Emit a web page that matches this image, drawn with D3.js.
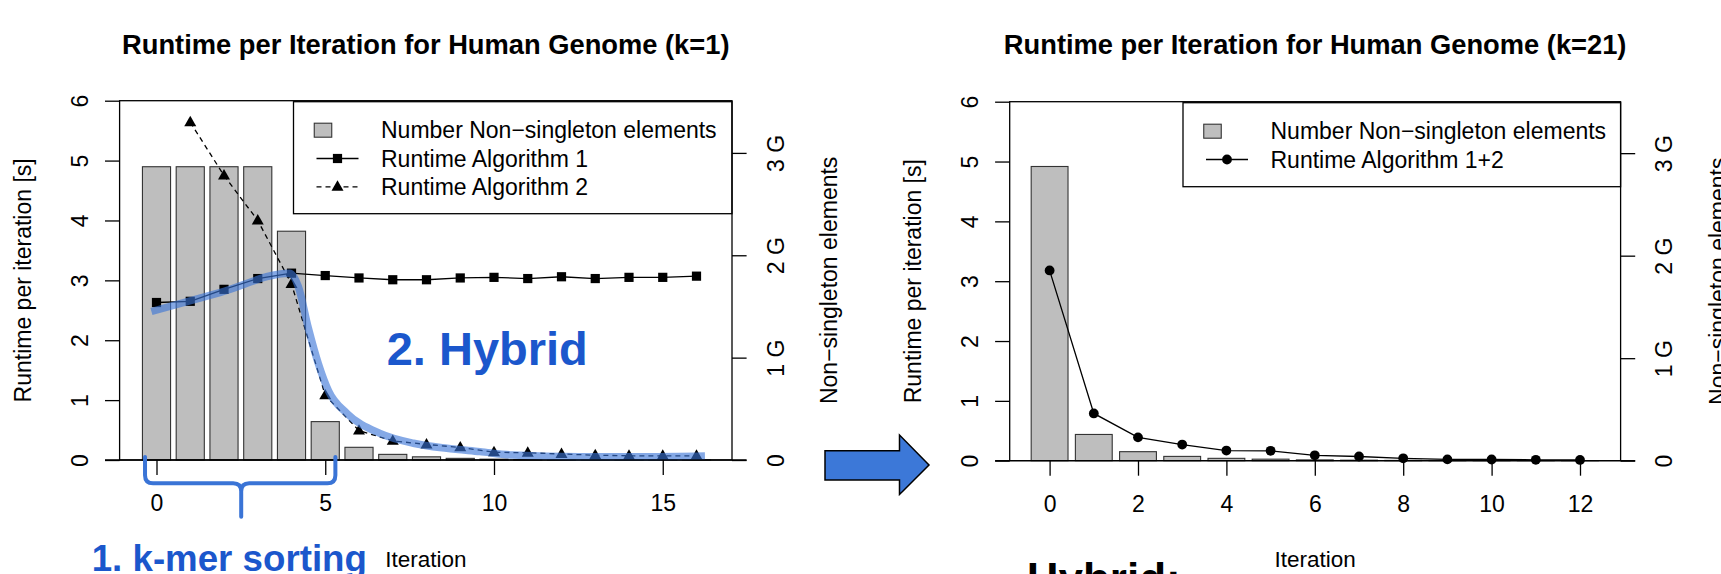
<!DOCTYPE html>
<html>
<head>
<meta charset="utf-8">
<script src="https://cdn.jsdelivr.net/npm/d3@7"></script>
<style>
  html, body { margin: 0; padding: 0; background: #fff; }
  svg { display: block; }
  text { font-family: "Liberation Sans", Arial, Helvetica, sans-serif; fill: #000; }
</style>
</head>
<body>
<svg id="chart" width="1721" height="574"></svg>
<script>
// ---------------- DATA ----------------
// Left panel (k=1)
const iterationsK1 = [0, 1, 2, 3, 4, 5, 6, 7, 8, 9, 10, 11, 12, 13, 14, 15, 16];
const nonSingletonK1 = [2.865, 2.865, 2.865, 2.865, 2.235, 0.375, 0.124, 0.055, 0.031, 0.016, 0.008, 0.004, 0.002, 0.001, 0.001, 0.0005, 0.0005]; // in G
const runtimeAlg1 = [2.63, 2.65, 2.85, 3.03, 3.12, 3.08, 3.04, 3.01, 3.01, 3.04, 3.05, 3.03, 3.06, 3.03, 3.05, 3.05, 3.07];
const runtimeAlg2 = [null, 5.64, 4.75, 4.0, 2.94, 1.08, 0.49, 0.32, 0.26, 0.21, 0.13, 0.12, 0.10, 0.08, 0.07, 0.07, 0.07];
// hand-drawn "hybrid" highlight curve (iteration, runtime)
const hybridIter    = [-0.15, 1.9, 3.95, 4.2, 4.5, 4.8, 5.1, 5.64, 6.62, 7.61, 8.6, 9.58, 10.56, 12.5, 14.5, 16.25];
const hybridRuntime = [2.48, 2.8, 3.12, 2.9, 2.2, 1.6, 1.15, 0.78, 0.445, 0.28, 0.195, 0.14, 0.083, 0.055, 0.055, 0.067];
// brace spanning the k-mer sorting iterations
const braceIter = [-0.34, 5.3];

// Right panel (k=21)
const iterationsK21 = [0, 1, 2, 3, 4, 5, 6, 7, 8, 9, 10, 11, 12];
const nonSingletonK21 = [2.87, 0.256, 0.088, 0.042, 0.023, 0.015, 0.008, 0.005, 0.003, 0.002, 0.001, 0.001, 0.001]; // in G
const runtimeAlg12 = [3.18, 0.79, 0.39, 0.27, 0.17, 0.165, 0.09, 0.07, 0.04, 0.022, 0.02, 0.015, 0.013];

// Ticks
const runtimeTicks = [0, 1, 2, 3, 4, 5, 6];
const gTicks = [0, 1, 2, 3];
const gTickLabels = ["0", "1 G", "2 G", "3 G"];
const xTicksK1 = [0, 5, 10, 15];
const xTicksK21 = [0, 2, 4, 6, 8, 10, 12];

// Texts
const titleK1 = "Runtime per Iteration for Human Genome (k=1)";
const titleK21 = "Runtime per Iteration for Human Genome (k=21)";
const yLabel = "Runtime per iteration [s]";
const y2Label = "Non\u2212singleton elements";
const xLabel = "Iteration";
const legendK1 = ["Number Non\u2212singleton elements", "Runtime Algorithm 1", "Runtime Algorithm 2"];
const legendK21 = ["Number Non\u2212singleton elements", "Runtime Algorithm 1+2"];
const hybridNote = "2. Hybrid";
const sortingNote = "1. k-mer sorting";
const bottomNote = "Hybrid:";

// ---------------- DRAWING ----------------
const svg = d3.select("#chart");
svg.append("rect").attr("width", 1721).attr("height", 574).attr("fill", "#fff");

const FS = 23;
const BAR_FILL = "#bebebe";
const BLUE = "#3a74d6";
const BLUE_TEXT = "#1b57cc";

function trianglePath(cx, cy, s) {
  const h = s * 0.866;
  return `M${cx},${cy - h * 0.62}L${cx + s / 2},${cy + h * 0.38}L${cx - s / 2},${cy + h * 0.38}Z`;
}

function drawMarker(g, type, cx, cy) {
  if (type === "square") {
    g.append("rect").attr("x", cx - 4.6).attr("y", cy - 4.6).attr("width", 9.2).attr("height", 9.2).attr("fill", "#000");
  } else if (type === "triangle") {
    g.append("path").attr("d", trianglePath(cx, cy, 12)).attr("fill", "#000");
  } else if (type === "circle") {
    g.append("circle").attr("cx", cx).attr("cy", cy).attr("r", 4.9).attr("fill", "#000");
  }
}

function panel(cfg) {
  const g = svg.append("g");
  const x = d3.scaleLinear().domain([0, 1]).range([cfg.xZero, cfg.xZero + cfg.xStep]);
  const y = d3.scaleLinear().domain([0, 6]).range([cfg.y0, cfg.yTop]);
  const yG = d3.scaleLinear().domain([0, cfg.gMax]).range([cfg.y0, cfg.yTop]);
  const step = x(1) - x(0);
  const bw = step / 1.2;

  // bars
  g.selectAll("rect.bar").data(cfg.iters).enter().append("rect")
    .attr("class", "bar")
    .attr("x", (d) => x(d) - bw / 2)
    .attr("width", bw)
    .attr("y", (d, i) => yG(cfg.bars[i]))
    .attr("height", (d, i) => cfg.y0 - yG(cfg.bars[i]))
    .attr("fill", BAR_FILL).attr("stroke", "#333").attr("stroke-width", 1.1);

  // zero line
  g.append("line").attr("x1", cfg.x0 - 14.6).attr("x2", cfg.x1 + 14.6)
    .attr("y1", y(0)).attr("y2", y(0)).attr("stroke", "#000").attr("stroke-width", 1.3);

  // series
  cfg.series.forEach((s) => {
    const pts = cfg.iters.map((it, i) => [it, s.values[i]]).filter((p) => p[1] != null);
    g.append("path").datum(pts)
      .attr("d", d3.line().x((p) => x(p[0])).y((p) => y(p[1])))
      .attr("fill", "none").attr("stroke", "#000").attr("stroke-width", 1.3)
      .attr("stroke-dasharray", s.dash || null);
    pts.forEach((p) => drawMarker(g, s.marker, x(p[0]), y(p[1])));
  });

  // highlight curve
  if (cfg.hybrid) {
    const pts = cfg.hybrid.iter.map((it, i) => [it, cfg.hybrid.rt[i]]);
    g.append("path").datum(pts)
      .attr("d", d3.line().x((p) => x(p[0])).y((p) => y(p[1])).curve(d3.curveMonotoneX))
      .attr("fill", "none").attr("stroke", BLUE).attr("stroke-width", 7.5)
      .attr("stroke-opacity", 0.62);
  }

  // legend
  const lg = g.append("g");
  const lx0 = cfg.legendX, ly0 = cfg.yTop + 1;
  const lh = cfg.legend.length * 28 + 28;
  lg.append("rect").attr("x", lx0).attr("y", ly0).attr("width", cfg.x1 - lx0).attr("height", lh)
    .attr("fill", "#fff").attr("stroke", "#000").attr("stroke-width", 1.3);
  const rectX = lx0 + 29.5;
  const lineX = lx0 + 44;
  const txtX = lx0 + 87.5;
  cfg.legend.forEach((lab, i) => {
    const cy = ly0 + 28.5 + i * 28.3;
    if (i === 0) {
      lg.append("rect").attr("x", rectX - 8.75).attr("y", cy - 7).attr("width", 17.5).attr("height", 14)
        .attr("fill", BAR_FILL).attr("stroke", "#333").attr("stroke-width", 1.1);
    } else {
      const s = cfg.series[i - 1];
      lg.append("line").attr("x1", lineX - 21).attr("x2", lineX + 21).attr("y1", cy).attr("y2", cy)
        .attr("stroke", "#000").attr("stroke-width", 1.3).attr("stroke-dasharray", s.dash || null);
      drawMarker(lg, s.marker, lineX, cy);
    }
    lg.append("text").attr("x", txtX).attr("y", cy).attr("dy", "0.35em")
      .attr("font-size", FS).text(lab);
  });

  // box
  g.append("rect").attr("x", cfg.x0).attr("y", cfg.yTop).attr("width", cfg.x1 - cfg.x0)
    .attr("height", cfg.y0 - cfg.yTop).attr("fill", "none").attr("stroke", "#000").attr("stroke-width", 1.3);

  // left axis
  const ax = g.append("g").attr("transform", `translate(${cfg.x0},0)`)
    .call(d3.axisLeft(y).tickValues(runtimeTicks).tickSize(14.6).tickSizeOuter(0).tickFormat(d3.format("d")));
  ax.select(".domain").remove();
  ax.selectAll("line").attr("stroke", "#000").attr("stroke-width", 1.3);
  ax.selectAll("text").attr("x", 0).attr("dy", "0.36em").attr("text-anchor", "middle")
    .attr("transform", "translate(-40,0) rotate(-90)").attr("font-size", FS)
    .attr("font-family", null).attr("fill", "#000");

  // right axis
  const axR = g.append("g").attr("transform", `translate(${cfg.x1},0)`)
    .call(d3.axisRight(yG).tickValues(gTicks).tickSize(14.6).tickSizeOuter(0).tickFormat((d, i) => gTickLabels[i]));
  axR.select(".domain").remove();
  axR.selectAll("line").attr("stroke", "#000").attr("stroke-width", 1.3);
  axR.selectAll("text").attr("x", 0).attr("dy", "0.36em").attr("text-anchor", "middle")
    .attr("transform", "translate(43.5,0) rotate(-90)").attr("font-size", FS)
    .attr("font-family", null).attr("fill", "#000");

  // bottom axis
  const axB = g.append("g").attr("transform", `translate(0,${cfg.y0})`)
    .call(d3.axisBottom(x).tickValues(cfg.xTicks).tickSize(15).tickSizeOuter(0).tickFormat(d3.format("d")));
  axB.select(".domain").remove();
  axB.selectAll("line").attr("stroke", "#000").attr("stroke-width", 1.3);
  axB.selectAll("text").attr("y", 43).attr("dy", "0.36em").attr("font-size", FS)
    .attr("font-family", null).attr("fill", "#000");

  const cx = (cfg.x0 + cfg.x1) / 2;
  const cyMid = (cfg.yTop + cfg.y0) / 2;
  // title
  g.append("text").attr("x", cx).attr("y", 54).attr("text-anchor", "middle")
    .attr("font-size", 27.3).attr("font-weight", "bold").text(cfg.title);
  // x label
  g.append("text").attr("x", cx).attr("y", 567).attr("text-anchor", "middle")
    .attr("font-size", 22.5).text(xLabel);
  // y label
  g.append("text").attr("transform", `translate(${cfg.x0 - 96.6},${cyMid}) rotate(-90)`)
    .attr("dy", "0.36em").attr("text-anchor", "middle").attr("font-size", FS).text(yLabel);
  // right label
  g.append("text").attr("transform", `translate(${cfg.x1 + 97},${cyMid}) rotate(-90)`)
    .attr("dy", "0.36em").attr("text-anchor", "middle").attr("font-size", FS).text(y2Label);

  return { x, y, g };
}

// Left panel
const left = panel({
  x0: 119.6, x1: 732, yTop: 100.7, y0: 460,
  xZero: 156.5, xStep: 33.75, xTicks: xTicksK1,
  gMax: 3.51,
  iters: iterationsK1, bars: nonSingletonK1,
  series: [
    { values: runtimeAlg1, marker: "square" },
    { values: runtimeAlg2, marker: "triangle", dash: "5,4" }
  ],
  hybrid: { iter: hybridIter, rt: hybridRuntime },
  legend: legendK1, legendX: 293.5,
  title: titleK1
});

// Right panel
const right = panel({
  x0: 1009.7, x1: 1620.6, yTop: 101.7, y0: 460.7,
  xZero: 1049.6, xStep: 44.2, xTicks: xTicksK21,
  gMax: 3.502,
  iters: iterationsK21, bars: nonSingletonK21,
  series: [
    { values: runtimeAlg12, marker: "circle" }
  ],
  legend: legendK21, legendX: 1183,
  title: titleK21
});

// ---------------- ANNOTATIONS ----------------
// "2. Hybrid" label
svg.append("text").attr("x", 386.7).attr("y", 365).attr("font-size", 47).attr("font-weight", "bold")
  .style("fill", BLUE_TEXT).text(hybridNote);

// brace under k-mer sorting iterations
(function () {
  const xa = left.x(braceIter[0]), xb = left.x(braceIter[1]);
  const xm = (xa + xb) / 2 + 1;
  const yTop = left.y(0) - 3, yMid = 483.3, yTip = 516.7, r = 8;
  const p = `M${xa},${yTop}L${xa},${yMid - r}Q${xa},${yMid} ${xa + r},${yMid}L${xm - r},${yMid}Q${xm},${yMid} ${xm},${yMid + r}L${xm},${yTip}` +
            `M${xb},${yTop}L${xb},${yMid - r}Q${xb},${yMid} ${xb - r},${yMid}L${xm + r},${yMid}Q${xm},${yMid} ${xm},${yMid + r}`;
  svg.append("path").attr("d", p).attr("fill", "none").attr("stroke", BLUE)
    .attr("stroke-width", 4).attr("stroke-linecap", "round").attr("stroke-linejoin", "round");
})();

// "1. k-mer sorting" label
svg.append("text").attr("x", 91.7).attr("y", 571).attr("font-size", 36.7).attr("font-weight", "bold")
  .style("fill", BLUE_TEXT).text(sortingNote);

// arrow between panels
svg.append("path")
  .attr("d", "M825,450.7L899.5,450.7L899.5,435L929,465L899.5,494.5L899.5,480L825,480Z")
  .attr("fill", "#3c78d8").attr("stroke", "#000").attr("stroke-width", 1.5).attr("stroke-linejoin", "miter");

// bottom "Hybrid:" text (cut off by the image edge)
svg.append("text").attr("x", 1026.7).attr("y", 593.5).attr("font-size", 44).attr("font-weight", "bold")
  .text(bottomNote);
</script>
</body>
</html>
